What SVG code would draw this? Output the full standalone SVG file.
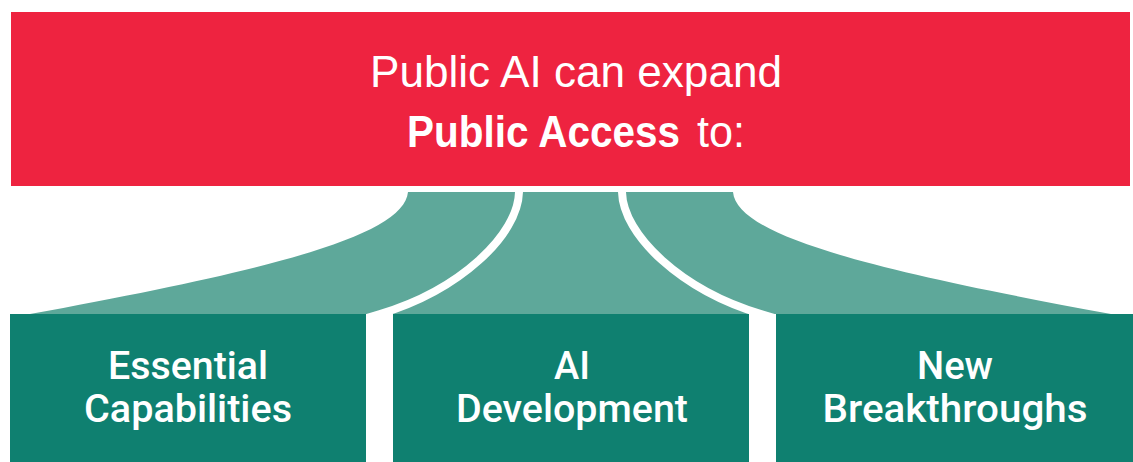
<svg xmlns="http://www.w3.org/2000/svg" width="1133" height="462" viewBox="0 0 1133 462">
<style>
.hdr{fill:#EE2340}
.box{fill:#0F8070}
.fan{fill:#5EA89A}
.gap{fill:none;stroke:#FFFFFF;stroke-width:8}
.t{font-family:"Liberation Sans",Arial,sans-serif;fill:#FFFFFF}
.m{text-anchor:middle}
.top{font-size:44px}
.lbl{font-family:Roboto,"Liberation Sans",Arial,sans-serif;font-weight:500;font-size:38px}
</style>
<rect width="1133" height="462" fill="#FFFFFF"/>
<g id="connectors">
<path class="fan" d="M408,192 L733,192 C737,236 871,270 1111,314 L30,314 C270,270 404,236 408,192 Z"/>
<path class="gap" d="M519,186 L519,192 C518,235 460,290 380,314 L340,326"/>
<path class="gap" d="M622,186 L622,192 C623,235 681,290 761,314 L801,326"/>
</g>
<g id="header">
<rect class="hdr" x="11" y="12" width="1119" height="174"/>
<text class="t m top" x="576" y="87" textLength="412" lengthAdjust="spacingAndGlyphs">Public AI can expand</text>
<text class="t top" transform="translate(407,147) scale(0.92,1)" x="0" y="0" font-weight="bold">Public Access</text>
<text class="t top" x="697" y="147" textLength="48" lengthAdjust="spacingAndGlyphs">to:</text>
</g>
<g id="essential">
<rect class="box" x="10" y="314" width="356" height="148"/>
<text class="t m lbl" x="188" y="379" textLength="160" lengthAdjust="spacingAndGlyphs">Essential</text>
<text class="t m lbl" x="188" y="422" textLength="208" lengthAdjust="spacingAndGlyphs">Capabilities</text>
</g>
<g id="aidev">
<rect class="box" x="393" y="314" width="356" height="148"/>
<text class="t m lbl" x="572" y="379">AI</text>
<text class="t m lbl" x="572" y="422" textLength="232" lengthAdjust="spacingAndGlyphs">Development</text>
</g>
<g id="breakthroughs">
<rect class="box" x="776" y="314" width="357" height="148"/>
<text class="t m lbl" x="955" y="379" textLength="76" lengthAdjust="spacingAndGlyphs">New</text>
<text class="t m lbl" x="955" y="422" textLength="265" lengthAdjust="spacingAndGlyphs">Breakthroughs</text>
</g>
</svg>
